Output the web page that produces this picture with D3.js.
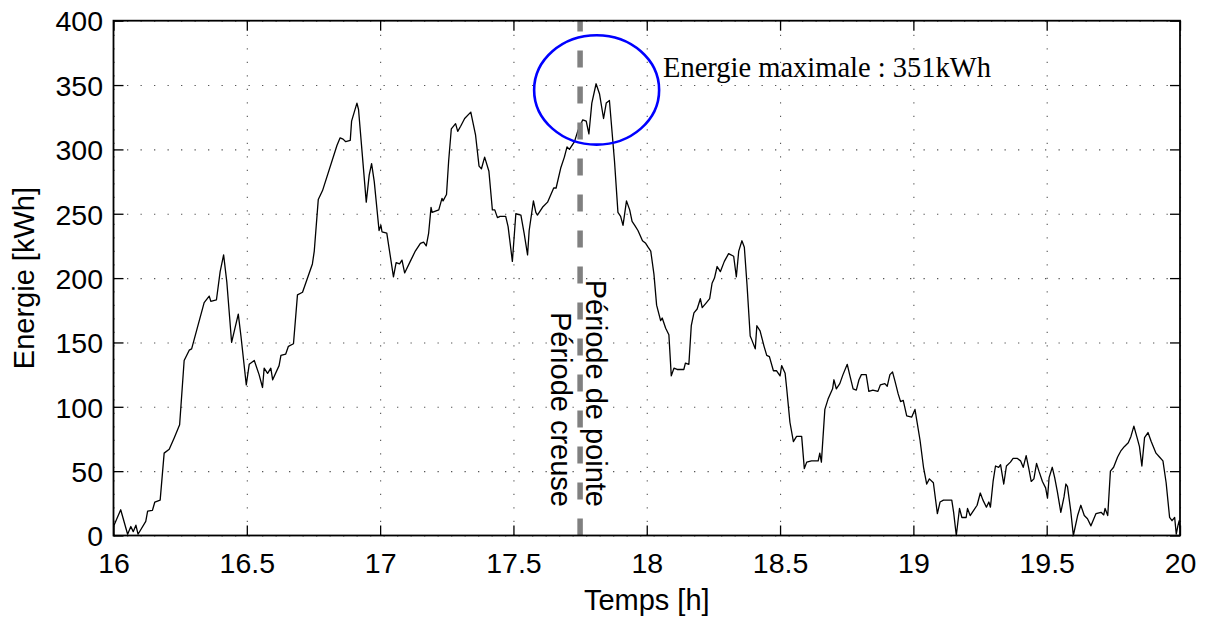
<!DOCTYPE html>
<html>
<head>
<meta charset="utf-8">
<script src="https://cdn.jsdelivr.net/npm/d3@7"></script>
<style>
  html, body { margin: 0; padding: 0; background: #fff; }
  svg { display: block; }
  .tick text { font-family: "Liberation Sans", Arial, sans-serif; fill: #000; }
</style>
</head>
<body>
<svg id="chart" width="1207" height="619"></svg>
<script>
// ---- data ----
const hours = [
16.000,16.027,16.053,16.065,16.074,16.084,16.092,16.121,16.128,16.146,16.155,16.175,16.190,16.209,16.228,16.248,16.265,16.284,16.293,16.340,
16.359,16.365,16.386,16.400,16.413,16.425,16.443,16.468,16.478,16.498,16.509,16.528,16.546,16.559,16.565,16.578,16.590,16.597,16.621,16.628,
16.646,16.656,16.675,16.690,16.709,16.746,16.753,16.768,16.784,16.838,16.850,16.861,16.871,16.888,16.893,16.913,16.919,16.948,16.959,16.968,
16.978,16.996,17.003,17.007,17.025,17.050,17.060,17.073,17.082,17.092,17.113,17.132,17.151,17.163,17.173,17.182,17.191,17.195,17.220,17.232,
17.236,17.249,17.257,17.267,17.283,17.291,17.302,17.317,17.340,17.358,17.371,17.380,17.392,17.408,17.421,17.430,17.440,17.450,17.471,17.480,
17.496,17.509,17.528,17.540,17.553,17.559,17.575,17.584,17.590,17.609,17.628,17.651,17.660,17.678,17.691,17.701,17.710,17.729,17.741,17.760,
17.773,17.783,17.794,17.810,17.823,17.838,17.848,17.860,17.879,17.892,17.902,17.911,17.924,17.936,17.945,17.955,17.967,17.984,17.996,18.005,
18.015,18.027,18.037,18.052,18.058,18.071,18.083,18.092,18.102,18.114,18.139,18.145,18.158,18.167,18.177,18.189,18.201,18.208,18.224,18.236,
18.245,18.254,18.264,18.276,18.291,18.307,18.326,18.336,18.345,18.357,18.366,18.376,18.388,18.394,18.407,18.413,18.425,18.440,18.450,18.460,
18.475,18.487,18.500,18.506,18.519,18.525,18.537,18.550,18.562,18.581,18.591,18.600,18.618,18.643,18.649,18.655,18.668,18.680,18.697,18.702,
18.711,18.724,18.736,18.752,18.761,18.774,18.786,18.796,18.805,18.823,18.833,18.848,18.867,18.876,18.893,18.902,18.912,18.922,18.931,18.943,
18.952,18.962,18.975,18.994,19.006,19.025,19.038,19.050,19.060,19.075,19.090,19.100,19.113,19.144,19.151,19.161,19.173,19.182,19.198,19.203,
19.213,19.239,19.251,19.261,19.274,19.283,19.289,19.299,19.308,19.320,19.327,19.339,19.349,19.364,19.374,19.389,19.402,19.412,19.423,19.433,
19.442,19.452,19.462,19.471,19.484,19.496,19.503,19.509,19.521,19.530,19.540,19.553,19.565,19.572,19.578,19.590,19.600,19.616,19.628,19.641,
19.653,19.666,19.685,19.704,19.714,19.719,19.729,19.739,19.751,19.766,19.779,19.791,19.806,19.816,19.827,19.839,19.848,19.857,19.867,19.880,
19.892,19.910,19.923,19.936,19.948,19.961,19.970,19.980,19.986,19.992,19.997,20.000
];
const energy = [
7,20,1,7,3,8,1,11,19,19.5,26,27.5,64,67,76,86,136,144,145,181,
186,182,183,205,218,197,150,172,155,117,133,136,125,115,130,126,130,121,132,140,
141,147,149,187,189,211,221,261,268,303,309,308,306,307,322,336,331,259,280,289,
275,237,241,236,235,201,212,211,214,204,213,221,227,228,225,235,255,251,253,262,
260,265,291,316,320,314,318,324,329,311,287,285,294,283,253,253,247,248,248,240,
213,250,249,235,218,237,260,251,249,255,259,270,270,286,294,302,300,306,314,323,
322,312,336,351,343,324,336,338,291,251,248,241,260,253,244,241,237,229,227,224,
221,203,179,167,169,161,156,124,130,129,129,134,133,163,173,176,184,177,181,184,
196,200,209,205,213,219,217,201,221,229,224,195,155,152,145,163,159,147,140,139,
128,128,124,132,126,114,88,73,77,77,52,57,58,58,64,57,98,106,114,121,
114,118,125,133,125,114,113,121,125,125,112,113,112,117,118,116,125,127,120,110,
104,105,93,92,98,74,53,40,44,41,17,26,27.5,27.5,18,0,21,14,14,21,
15.5,23.5,33,27.5,22,26,22,42,54,53,55,40,54,57,60,60,58,53,62,52,
42,44,56,50,42,37,29,45,53,45,34,18,30,40,38,19.5,0,15.5,23.5,15.5,
13,7.5,17,18,16,21,15.5,50,53,61,66,69,72,77,85,76,69,54,76,80,
73,64,61,58,41,14,11.5,14,1,7.5,11.5,5
];
const xTicks = [16, 16.5, 17, 17.5, 18, 18.5, 19, 19.5, 20];
const xTickLabels = ["16", "16.5", "17", "17.5", "18", "18.5", "19", "19.5", "20"];
const yTicks = [0, 50, 100, 150, 200, 250, 300, 350, 400];
const yTickLabels = ["0", "50", "100", "150", "200", "250", "300", "350", "400"];
const splitHour = [17.75];
const peakMarker = [{ hour: 17.812, value: 346.2, rHour: 0.2344, rValue: 42.5 }];
const texts = {
  xLabel: "Temps [h]",
  yLabel: "Energie [kWh]",
  annotation: "Energie maximale : 351kWh",
  peak: "Période de pointe",
  offPeak: "Période creuse"
};

// ---- layout ----
const svg = d3.select("#chart");
const L = 113.5, R = 1180, T = 20.7, B = 535.5;
const x = d3.scaleLinear().domain([16, 20]).range([L, R]);
const y = d3.scaleLinear().domain([0, 400]).range([B, T]);
const sansFont = '"Liberation Sans", Arial, sans-serif';

svg.append("rect").attr("width", 1207).attr("height", 619).attr("fill", "#fff");

// grid (dotted)
const gridX = svg.append("g").attr("transform", `translate(0,${B})`)
  .call(d3.axisBottom(x).tickValues(xTicks).tickSize(-(B - T)).tickFormat(""));
const gridY = svg.append("g").attr("transform", `translate(${L},0)`)
  .call(d3.axisLeft(y).tickValues(yTicks).tickSize(-(R - L)).tickFormat(""));
[gridX, gridY].forEach(g => {
  g.select(".domain").remove();
  g.selectAll(".tick line").attr("stroke", "#555").attr("stroke-width", 1.1)
    .attr("stroke-dasharray", "1.3,12.2");
});

// data line
svg.append("path")
  .datum(hours.map((h, i) => [h, energy[i]]))
  .attr("fill", "none").attr("stroke", "#000").attr("stroke-width", 1.3)
  .attr("stroke-linejoin", "round")
  .attr("d", d3.line().x(d => x(d[0])).y(d => y(d[1])));

// dashed split line (drawn from bottom upwards)
svg.selectAll(".split").data(splitHour).join("line")
  .attr("x1", d => x(d)).attr("x2", d => x(d))
  .attr("y1", y(0)).attr("y2", y(400))
  .attr("stroke", "#808080").attr("stroke-width", 5.5)
  .attr("stroke-dasharray", "17,19");

// axes with inward ticks
const fs = 28.5;
const axB = svg.append("g").attr("transform", `translate(0,${B})`)
  .call(d3.axisBottom(x).tickValues(xTicks).tickSize(-10).tickPadding(17)
    .tickFormat((d, i) => xTickLabels[i]));
const axT = svg.append("g").attr("transform", `translate(0,${T})`)
  .call(d3.axisTop(x).tickValues(xTicks).tickSize(-10).tickFormat(""));
const axL = svg.append("g").attr("transform", `translate(${L},0)`)
  .call(d3.axisLeft(y).tickValues(yTicks).tickSize(-10).tickPadding(10.5)
    .tickFormat((d, i) => yTickLabels[i]));
const axR = svg.append("g").attr("transform", `translate(${R},0)`)
  .call(d3.axisRight(y).tickValues(yTicks).tickSize(-10).tickFormat(""));
[axB, axT, axL, axR].forEach(g => {
  g.select(".domain").remove();
  g.selectAll(".tick line").attr("stroke", "#000").attr("stroke-width", 1.3);
  g.selectAll(".tick text").style("font-size", fs + "px").style("font-family", sansFont);
});
axL.selectAll(".tick text").attr("dy", "0.36em");

// frame
svg.append("rect").attr("x", L).attr("y", T).attr("width", R - L).attr("height", B - T)
  .attr("fill", "none").attr("stroke", "#000").attr("stroke-width", 1.8);

// ellipse around the peak
svg.selectAll(".peak").data(peakMarker).join("ellipse")
  .attr("cx", d => x(d.hour)).attr("cy", d => y(d.value))
  .attr("rx", d => x(d.hour + d.rHour) - x(d.hour))
  .attr("ry", d => y(d.value - d.rValue) - y(d.value))
  .attr("fill", "none").attr("stroke", "#0000ff").attr("stroke-width", 2.6);

// annotation
svg.append("text").attr("x", 663).attr("y", 77)
  .style("font-family", '"Liberation Serif", "Times New Roman", serif')
  .style("font-size", "28.5px").attr("fill", "#000").text(texts.annotation);

// rotated period labels
svg.append("text")
  .attr("transform", `translate(${x(splitHour[0]) + 6},507) rotate(90)`)
  .attr("text-anchor", "end")
  .style("font-family", sansFont).style("font-size", "29px").text(texts.peak);
svg.append("text")
  .attr("transform", `translate(${x(splitHour[0]) - 29},507) rotate(90)`)
  .attr("text-anchor", "end")
  .style("font-family", sansFont).style("font-size", "29px").text(texts.offPeak);

// axis labels
svg.append("text").attr("x", (L + R) / 2).attr("y", 610).attr("text-anchor", "middle")
  .style("font-family", sansFont).style("font-size", "29px").text(texts.xLabel);
svg.append("text").attr("transform", `translate(34,${(T + B) / 2}) rotate(-90)`)
  .attr("text-anchor", "middle")
  .style("font-family", sansFont).style("font-size", "29px").text(texts.yLabel);
</script>
</body>
</html>
